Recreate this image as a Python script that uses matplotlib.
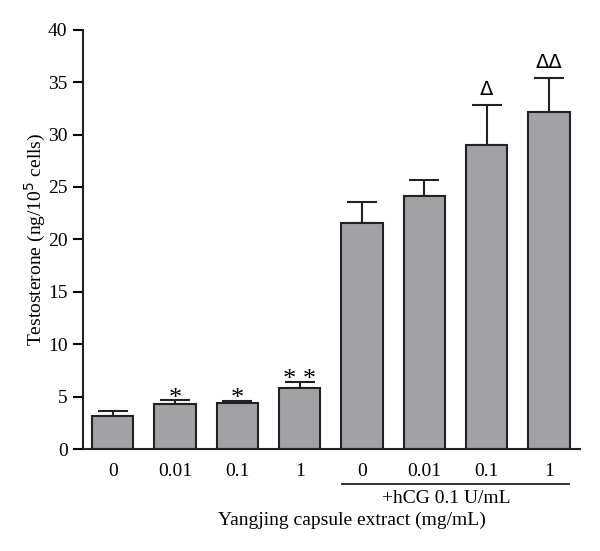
import matplotlib
matplotlib.use('Agg')
import matplotlib.pyplot as plt
import numpy as np

# ── DATA ──────────────────────────────────────────────────────────────────
dose_labels = ["0", "0.01", "0.1", "1", "0", "0.01", "0.1", "1"]
testosterone = [3.2, 4.3, 4.4, 5.8, 21.6, 24.1, 29.0, 32.2]
sem = [0.4, 0.35, 0.2, 0.6, 2.0, 1.6, 3.8, 3.2]
marks = ["", "*", "*", "* *", "", "", "Δ", "ΔΔ"]

plt.rcParams['font.family'] = ['Liberation Serif', 'DejaVu Serif']

fig = plt.figure(figsize=(6.0, 5.51), dpi=100)
ax = fig.add_axes([0.138, 0.185, 0.829, 0.761])

x = np.arange(len(testosterone))
ax.bar(x, testosterone, width=0.66, color='#a2a2a6', edgecolor='#222222',
       linewidth=1.5, zorder=2)
ax.errorbar(x, testosterone, yerr=[np.zeros(len(sem)), sem], fmt='none',
            ecolor='#222222', elinewidth=1.5, capsize=11, capthick=1.5, zorder=1)

for xi, yi, e, m in zip(x, testosterone, sem, marks):
    if not m:
        continue
    if 'Δ' in m:
        ax.text(xi, yi + e + 0.6, m, ha='center', va='bottom', fontsize=14,
                family=['DejaVu Sans'])
    else:
        ax.text(xi, yi + e - 0.9, m, ha='center', va='bottom', fontsize=19)

ax.set_xlim(-0.48, 7.5)
ax.set_ylim(0, 40)
ax.set_yticks(np.arange(0, 41, 5))
ax.set_xticks(x)
ax.set_xticklabels(dose_labels)
ax.tick_params(axis='x', length=0, pad=10, labelsize=14)
ax.tick_params(axis='y', direction='out', length=7, width=1.5, labelsize=14, pad=4)
for s in ['top', 'right']:
    ax.spines[s].set_visible(False)
for s in ['left', 'bottom']:
    ax.spines[s].set_linewidth(1.5)
    ax.spines[s].set_color('#222222')

ax.set_ylabel("Testosterone (ng/10$^5$ cells)", fontsize=14, labelpad=0)

# hCG group bracket line
ax.plot([3.68, 7.32], [-3.3, -3.3], color='#222222', lw=1.3, clip_on=False)
ax.text(5.35, -3.9, "+hCG 0.1 U/mL", ha='center', va='top', fontsize=14)
fig.text(352 / 600, 1 - 520 / 551, "Yangjing capsule extract (mg/mL)",
         ha='center', va='center', fontsize=14)

plt.savefig("out.png", dpi=100)
plt.close()
